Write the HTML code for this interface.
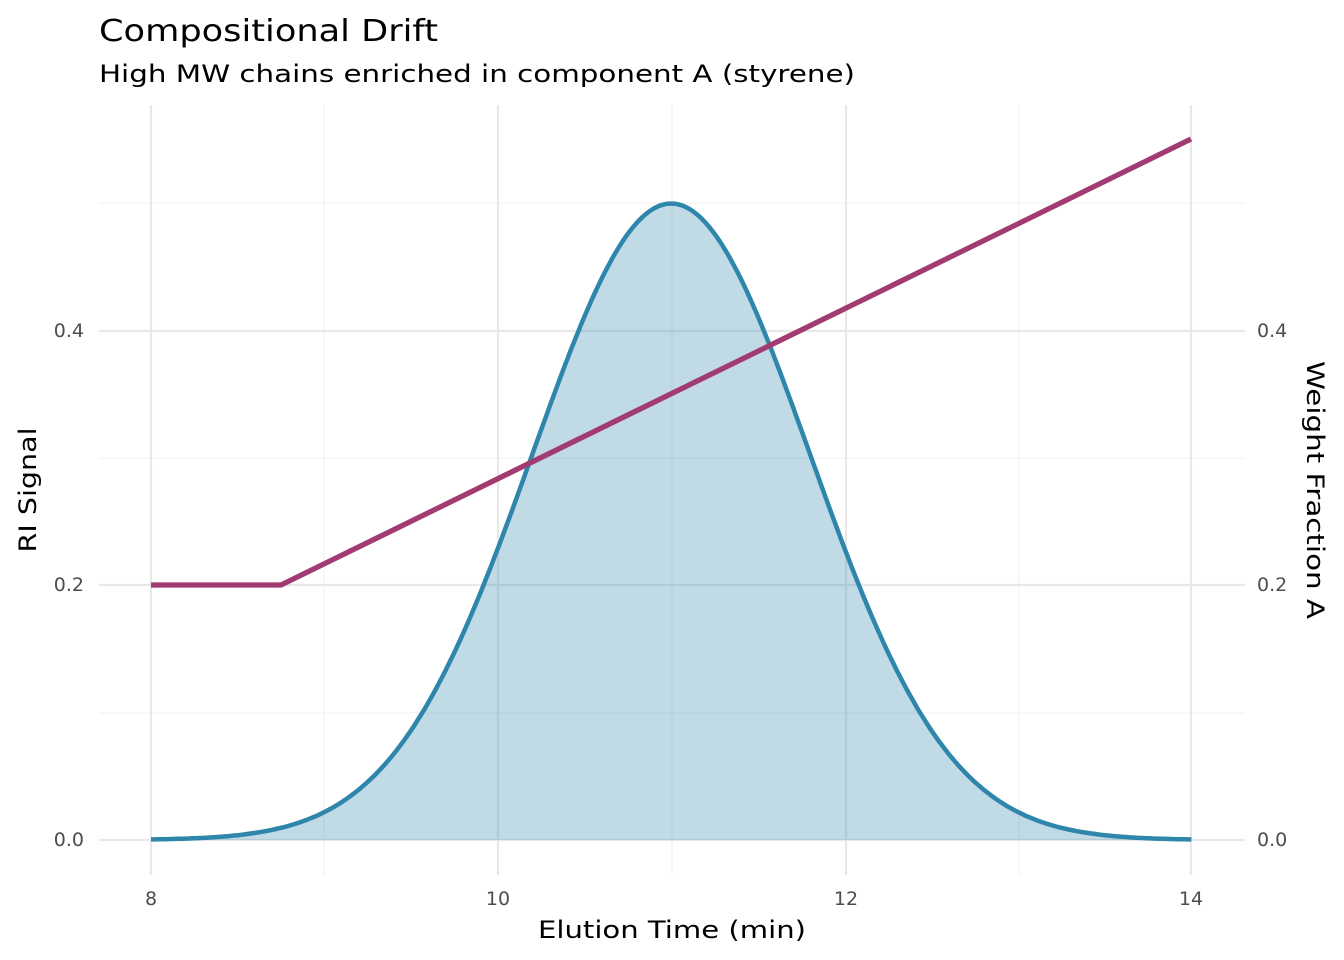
<!DOCTYPE html>
<html><head><meta charset="utf-8"><style>
html,body{margin:0;padding:0;background:#fff;}
svg{display:block;font-family:"DejaVu Sans","Liberation Sans",sans-serif;}
</style></head><body>
<svg id="s" width="1344" height="960" viewBox="0 0 1344 960" xmlns="http://www.w3.org/2000/svg">
<rect width="1344" height="960" fill="#fff"/>
<g stroke="#f0f0f0" stroke-width="1.1">
<line x1="99" x2="1245" y1="713" y2="713"/><line x1="99" x2="1245" y1="458" y2="458"/><line x1="99" x2="1245" y1="203" y2="203"/>
<line x1="324" x2="324" y1="105" y2="875"/><line x1="672" x2="672" y1="105" y2="875"/><line x1="1019" x2="1019" y1="105" y2="875"/>
</g>
<g stroke="#e8e8e8" stroke-width="2.2">
<line x1="99" x2="1245" y1="840" y2="840"/><line x1="99" x2="1245" y1="585" y2="585"/><line x1="99" x2="1245" y1="331" y2="331"/>
<line x1="151" x2="151" y1="105" y2="875"/><line x1="498" x2="498" y1="105" y2="875"/><line x1="846" x2="846" y1="105" y2="875"/><line x1="1191" x2="1191" y1="105" y2="875"/>
</g>
<path id="fill" fill="#2e86ab" fill-opacity="0.3"/>
<path id="curve" fill="none" stroke="#2e86ab" stroke-width="4.5"/>
<polyline points="151,585 281,585 1191,139" fill="none" stroke="#a23b72" stroke-width="5.3"/>
<g font-size="19" fill="#4d4d4d">
<text x="84" y="846" text-anchor="end">0.0</text><text x="84" y="591" text-anchor="end">0.2</text><text x="84" y="337" text-anchor="end">0.4</text>
<text x="1257" y="846">0.0</text><text x="1257" y="591">0.2</text><text x="1257" y="337">0.4</text>
<text x="151" y="905" text-anchor="middle">8</text><text x="498" y="905" text-anchor="middle">10</text><text x="846" y="905" text-anchor="middle">12</text><text x="1191" y="905" text-anchor="middle">14</text>
</g>
<text x="538" y="938" font-size="24" fill="#000" textLength="268" lengthAdjust="spacingAndGlyphs">Elution Time (min)</text>
<text transform="translate(36,490) rotate(-90)" font-size="24" text-anchor="middle" fill="#000" textLength="125" lengthAdjust="spacingAndGlyphs">RI Signal</text>
<text transform="translate(1307,490) rotate(90)" font-size="24" text-anchor="middle" fill="#000" textLength="258" lengthAdjust="spacingAndGlyphs">Weight Fraction A</text>
<text x="99" y="41" font-size="30" fill="#000" textLength="339" lengthAdjust="spacingAndGlyphs">Compositional Drift</text>
<text x="99" y="82" font-size="24" fill="#000" textLength="756" lengthAdjust="spacingAndGlyphs">High MW chains enriched in component A (styrene)</text>
</svg>
<script>
var pts=[];
for(var i=0;i<=300;i++){var x=8+6*i/300;var y=0.5*Math.exp(-Math.pow(x-11,2)/1.28);
pts.push((151+(x-8)*173.4).toFixed(1)+","+(840-y*1273).toFixed(1));}
document.getElementById("curve").setAttribute("d","M"+pts.join(" L"));
document.getElementById("fill").setAttribute("d","M151,840 L"+pts.join(" L")+" L1191,840 Z");
</script>
</body></html>
